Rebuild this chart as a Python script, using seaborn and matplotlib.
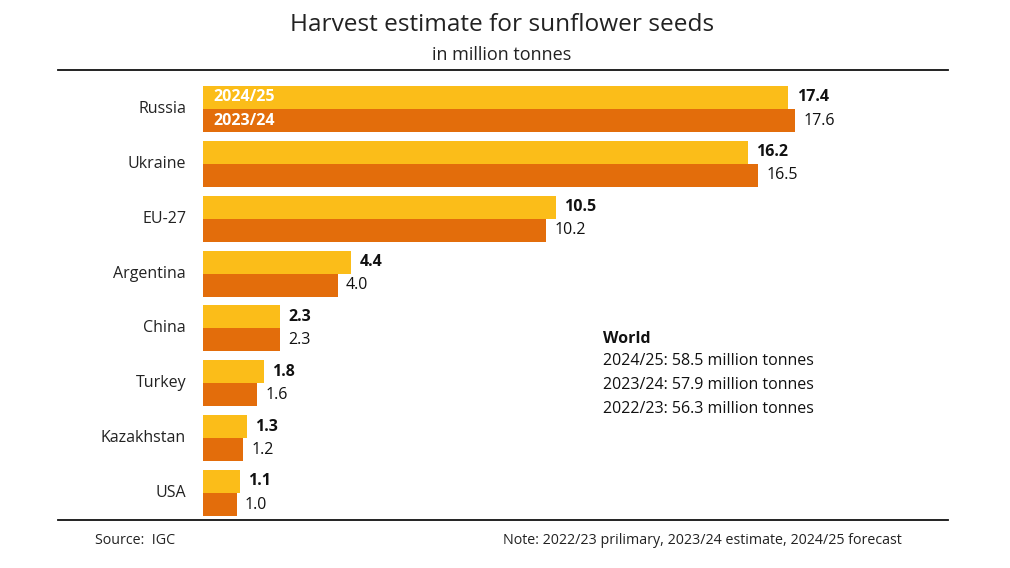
import matplotlib
matplotlib.use("Agg")
import matplotlib.pyplot as plt
import seaborn as sns
import pandas as pd

countries = ["Russia", "Ukraine", "EU-27", "Argentina", "China", "Turkey", "Kazakhstan", "USA"]
seasons = ["2024/25", "2023/24"]
values_2425 = [17.4, 16.2, 10.5, 4.4, 2.3, 1.8, 1.3, 1.1]
values_2324 = [17.6, 16.5, 10.2, 4.0, 2.3, 1.6, 1.2, 1.0]
colors = ["#FBBD19", "#E36D0B"]
world_lines = ["2024/25: 58.5 million tonnes", "2023/24: 57.9 million tonnes", "2022/23: 56.3 million tonnes"]

df = pd.DataFrame({
    "country": countries * 2,
    "season": [seasons[0]] * len(countries) + [seasons[1]] * len(countries),
    "value": values_2425 + values_2324,
})

sns.set_theme(style="white")
plt.rcParams["font.family"] = ["Open Sans", "DejaVu Sans"]

W, H = 1010, 568
fig = plt.figure(figsize=(W / 100, H / 100), dpi=100)
ax = fig.add_axes([58 / W, 1 - 520 / H, 890 / W, 450 / H])

sns.barplot(data=df, x="value", y="country", hue="season", hue_order=seasons,
            order=countries, palette=colors, orient="h", width=0.84,
            saturation=1, legend=False, linewidth=0, ax=ax)

px = 592 / 17.6
ax.set_xlim(-145 / px, (948 - 203) / px)
pitch = 54.86
ax.set_ylim(7 + 27 / pitch, -39 / pitch)

for s in ["left", "right"]:
    ax.spines[s].set_visible(False)
for s in ["top", "bottom"]:
    ax.spines[s].set_visible(True)
    ax.spines[s].set_color("#111111")
    ax.spines[s].set_linewidth(1.3)
ax.set_xticks([])
ax.set_yticks([])
ax.set_xlabel("")
ax.set_ylabel("")

for i, c in enumerate(countries):
    ax.text(-17 / px, i, c, ha="right", va="center", fontsize=11.5, color="#222222")

for j, cont in enumerate(ax.containers):
    ax.bar_label(cont, fmt="%.1f", padding=6, fontsize=11.5, color="#111111",
                 fontweight="bold" if j == 0 else "normal")

# season labels inside Russia bars
for j, s in enumerate(seasons):
    ax.text(10 / px, 0 + (-0.21 if j == 0 else 0.21), s, ha="left", va="center",
            color="white", fontweight="bold", fontsize=11.5)

fig.text(502 / W, 1 - 25 / H, "Harvest estimate for sunflower seeds", ha="center", va="center",
         fontsize=17.6, color="#222222")
fig.text(502 / W, 1 - 55 / H, "in million tonnes", ha="center", va="center",
         fontsize=13, color="#222222")

fig.text(603 / W, 1 - 339 / H, "World", ha="left", va="center", fontsize=11.5,
         fontweight="bold", color="#111111")
for k, line in enumerate(world_lines):
    fig.text(603 / W, 1 - (361 + 24 * k) / H, line, ha="left", va="center",
             fontsize=11.5, color="#111111")

fig.text(95 / W, 1 - 541 / H, "Source:  IGC", ha="left", va="center", fontsize=10.3,
         color="#222222")
fig.text(902 / W, 1 - 541 / H, "Note: 2022/23 prilimary, 2023/24 estimate, 2024/25 forecast",
         ha="right", va="center", fontsize=10.3, color="#222222")

fig.savefig("out.png", dpi=100, facecolor="white")
